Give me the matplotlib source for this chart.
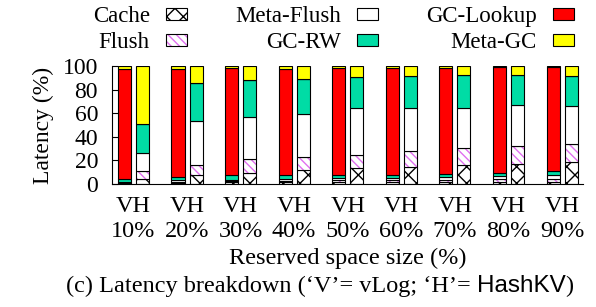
import matplotlib
matplotlib.use("Agg")
import matplotlib.pyplot as plt
import numpy as np
from matplotlib.patches import Patch

plt.rcParams["font.family"] = "Liberation Serif"
plt.rcParams["font.size"] = 16.5
plt.rcParams["hatch.linewidth"] = 1.0

groups = ["10%", "20%", "30%", "40%", "50%", "60%", "70%", "80%", "90%"]
parts = ["Cache", "Flush", "Meta-Flush", "GC-RW", "GC-Lookup", "Meta-GC"]

# latency share per part, one row per reserved space size
vlog = [
    [0.5, 0.5, 0.5, 3.0, 93.0, 2.5],
    [1.0, 1.0, 1.4, 2.8, 91.0, 2.8],
    [1.5, 1.0, 0.9, 4.2, 90.7, 1.7],
    [1.5, 1.2, 1.3, 3.4, 90.3, 2.3],
    [1.5, 1.5, 1.8, 2.8, 90.4, 2.0],
    [1.5, 1.5, 1.8, 2.8, 90.4, 2.0],
    [1.5, 2.0, 2.2, 2.8, 89.8, 1.7],
    [2.0, 2.3, 2.5, 2.8, 89.3, 1.1],
    [2.0, 2.5, 3.1, 3.4, 88.4, 0.6],
]
hashkv = [
    [4.0, 7.0, 15.5, 24.0, 0.0, 49.5],
    [7.6, 8.5, 37.3, 31.9, 0.0, 14.7],
    [9.6, 11.3, 36.1, 31.1, 0.0, 11.9],
    [11.9, 11.2, 36.2, 29.7, 0.0, 11.0],
    [13.3, 11.3, 39.6, 26.7, 0.0, 9.1],
    [14.7, 13.5, 36.5, 26.8, 0.0, 8.5],
    [16.1, 14.7, 33.4, 28.2, 0.0, 7.6],
    [16.9, 15.3, 34.7, 25.5, 0.0, 7.6],
    [18.9, 14.7, 32.5, 25.7, 0.0, 8.2],
]

faces = ["white", "white", "white", "#00dca5", "#ff0000", "#ffff00"]
hatches = ["xx", "\\\\\\\\", None, None, None, None]
hatch_cols = ["black", "#e070f0", "black", "black", "black", "black"]

fig = plt.figure(figsize=(5.96, 3.07), dpi=100)
ax = fig.add_axes([0.1879, 0.4007, 0.7903, 0.3844])

x = np.arange(len(groups))
off, w = 0.168, 0.243
for data, xs in [(np.array(vlog), x - off), (np.array(hashkv), x + off)]:
    bottom = np.zeros(len(groups))
    for j in range(len(parts)):
        ax.bar(xs, data[:, j], w, bottom=bottom, color=faces[j], hatch=hatches[j],
               edgecolor=hatch_cols[j], linewidth=0)
        ax.bar(xs, data[:, j], w, bottom=bottom, fill=False, edgecolor="black", linewidth=0.8)
        bottom += data[:, j]

ax.set_xlim(-0.40, 8.39)
ax.set_ylim(0, 100)
ax.set_yticks([0, 20, 40, 60, 80, 100])
ax.tick_params(axis="y", direction="in", length=4, pad=10, labelsize=17)
ax.set_xticks(x)
ax.set_xticklabels(["VH\n" + g for g in groups], linespacing=1.25)
ax.tick_params(axis="x", length=0, pad=9, labelsize=17.5)
ax.spines["top"].set_visible(False)
ax.spines["right"].set_visible(False)
ax.set_ylabel("Latency (%)", labelpad=6, fontsize=17)
ax.set_xlabel("Reserved space size (%)", labelpad=4, fontsize=17.5)

handles = [(Patch(facecolor=faces[j], hatch=hatches[j], edgecolor=hatch_cols[j], linewidth=0),
            Patch(fill=False, edgecolor="black", linewidth=0.8)) for j in range(len(parts))]
fig.legend(handles, parts, ncol=3, markerfirst=False, frameon=False,
           loc="upper right", bbox_to_anchor=(574 / 596, 0.98),
           handlelength=0.92, handleheight=0.45, handletextpad=0.7,
           columnspacing=2.1, labelspacing=0.22, borderpad=0.0, borderaxespad=0.0)

# caption: serif text with the system name in sans
fig.canvas.draw()
r = fig.canvas.get_renderer()
pieces = [("(c) Latency breakdown (\u2018V\u2019= vLog; \u2018H\u2019= ", "Liberation Serif"),
          ("HashKV", "Liberation Sans"),
          (")", "Liberation Serif")]
texts = [fig.text(0, 0.05, s, family=f, va="baseline", fontsize=17.5) for s, f in pieces]
widths = [t.get_window_extent(r).width / fig.bbox.width for t in texts]
start = 320 / 596 - sum(widths) / 2
for t, wd in zip(texts, widths):
    t.set_x(start)
    start += wd

fig.savefig("out.png", dpi=100)
